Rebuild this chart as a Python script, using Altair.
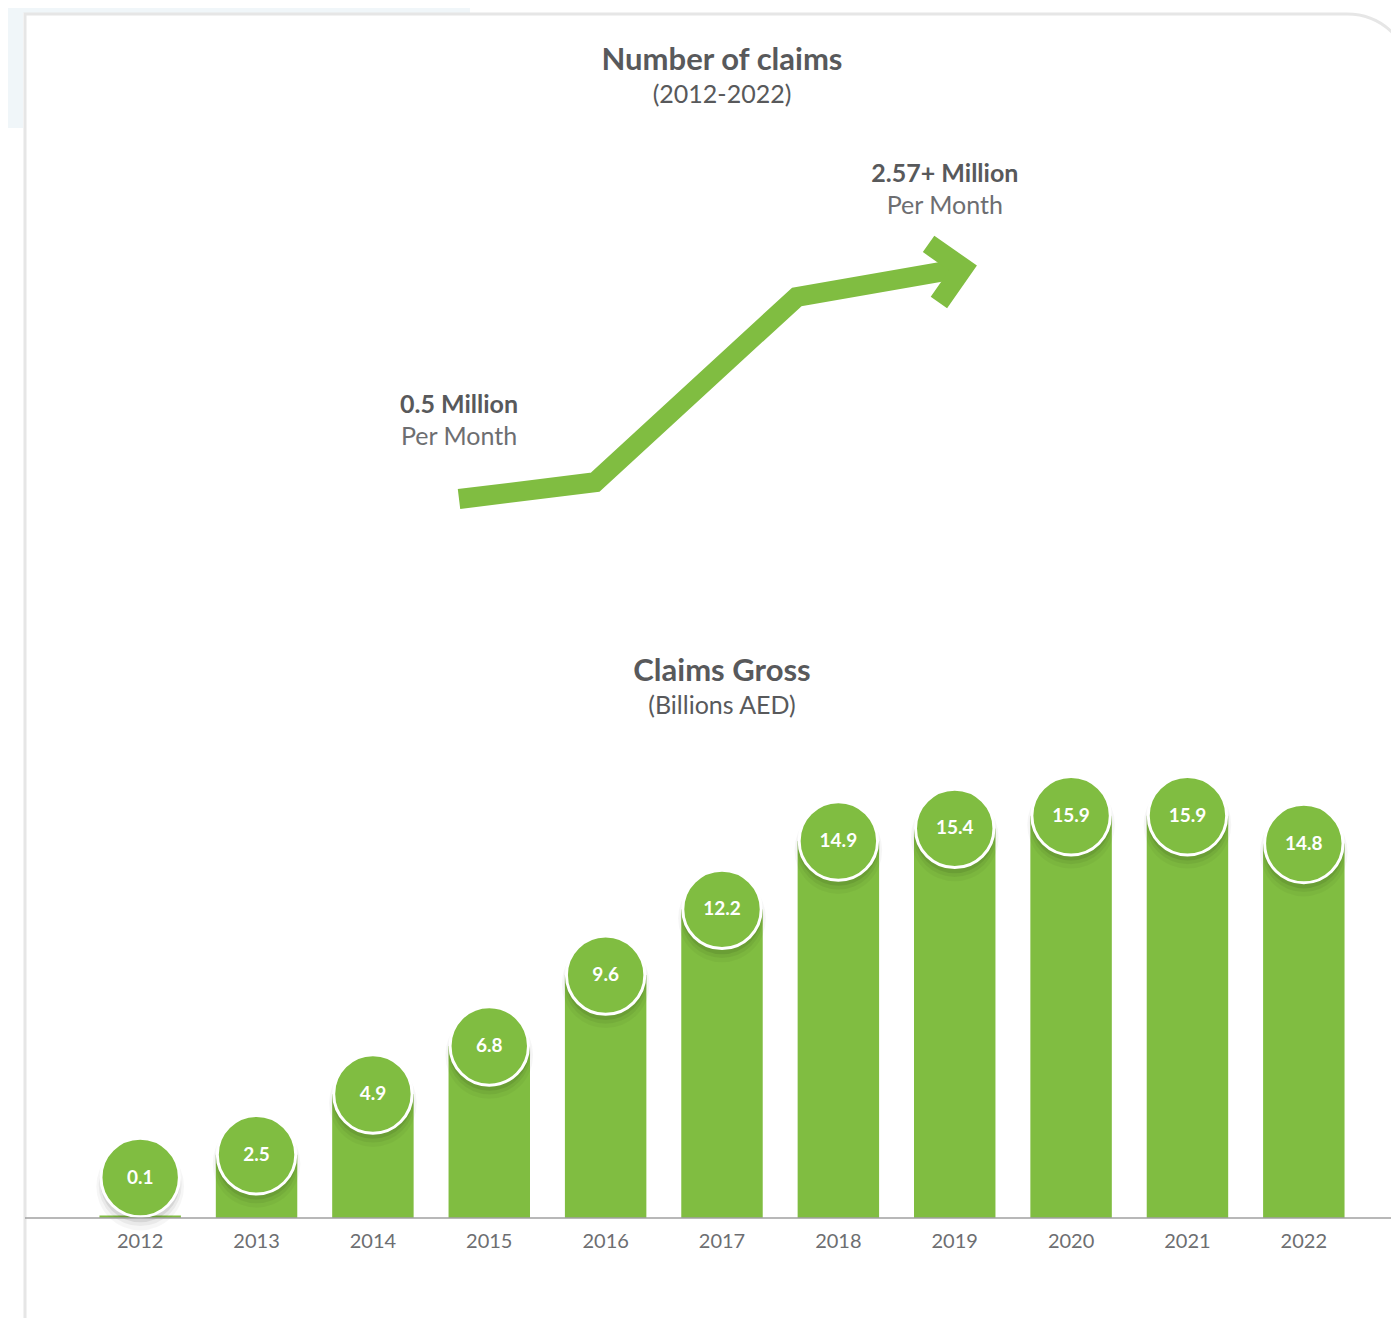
import altair as alt
import pandas as pd

# ---------------- data ----------------
years = ["2012", "2013", "2014", "2015", "2016", "2017", "2018", "2019", "2020", "2021", "2022"]
gross = [0.1, 2.5, 4.9, 6.8, 9.6, 12.2, 14.9, 15.4, 15.9, 15.9, 14.8]

arrow_year = [2012, 2014.7, 2018.7, 2022]
arrow_claims = [0.5, 0.65, 2.31, 2.57]

label_year = [2012, 2021.64]
label_claims = [0.5, 2.57]
label_bold = ["0.5 Million", "2.57+ Million"]
label_sub = ["Per Month", "Per Month"]

top_title = "Number of claims"
top_sub = "(2012-2022)"
bar_title = "Claims Gross"
bar_sub = "(Billions AED)"

# ---------------- style ----------------
W, H = 1383, 1310
GREEN = "#80bd41"
TXT = "#58595b"
AX = "#6d6e71"
FONT = "Lato"

bars_df = pd.DataFrame({"year": years, "value": gross})
arrow_df = pd.DataFrame({"year": arrow_year, "claims": arrow_claims})
head_df = pd.DataFrame({"year": [arrow_year[-1]], "claims": [arrow_claims[-1]]})
lab_df = pd.DataFrame({"year": label_year, "claims": label_claims,
                       "bold": label_bold, "sub": label_sub})
one = pd.DataFrame({"k": [0]})

# ---------------- decoration ----------------
bg1 = alt.Chart(one).mark_rect(color="#f0f6f9").encode(
    x=alt.value(0), x2=alt.value(462), y=alt.value(0), y2=alt.value(5))
bg2 = alt.Chart(one).mark_rect(color="#f0f6f9").encode(
    x=alt.value(0), x2=alt.value(15), y=alt.value(0), y2=alt.value(120))
border = alt.Chart(one).mark_rect(
    filled=False, stroke="#e6e6e6", strokeWidth=3, cornerRadiusTopRight=65
).encode(x=alt.value(17), x2=alt.value(1404), y=alt.value(6), y2=alt.value(1400))


def text_at(t, x, y, size, bold):
    return alt.Chart(pd.DataFrame({"t": [t]})).mark_text(
        font=FONT, fontSize=size, fontWeight="bold" if bold else "normal",
        color=TXT, align="center", baseline="middle"
    ).encode(text="t:N", x=alt.value(x), y=alt.value(y))


titles = alt.layer(
    text_at(top_title, 714, 53, 31, True),
    text_at(top_sub, 714, 87, 25, False),
    text_at(bar_title, 714, 664, 31, True),
    text_at(bar_sub, 714, 698, 25, False),
)

deco = alt.layer(bg1, bg2, border, titles)

# ---------------- bar chart ----------------
xs = alt.X("year:N", scale=alt.Scale(domain=years, range=[74, 1354],
                                      paddingInner=0.3, paddingOuter=0.15), axis=None)
ys = alt.Scale(domain=[0, 20], range=[1210, 704])

base = alt.Chart(bars_df)

bars = base.mark_bar(color=GREEN).encode(
    x=xs, y=alt.Y("value:Q", scale=ys, axis=None))

circ_base = base.transform_calculate(cy="max(datum.value, 1.6)")
cy = alt.Y("cy:Q", scale=ys, axis=None)

shadows = [
    circ_base.mark_circle(color="black", opacity=op, size=sz, yOffset=off).encode(x=xs, y=cy)
    for op, sz, off in [(0.035, 7700, 9), (0.05, 6900, 7), (0.08, 6350, 5)]
]

circles = circ_base.mark_circle(
    color=GREEN, size=6150, opacity=1, stroke="white", strokeWidth=3
).encode(x=xs, y=cy)

circ_text = circ_base.mark_text(
    font=FONT, fontSize=19, fontWeight="bold", color="white", baseline="middle"
).encode(x=xs, y=cy, text=alt.Text("value:Q", format=".1f"))

axis_rule = alt.Chart(one).mark_rule(color="#a0a0a0", strokeWidth=1.5).encode(
    y=alt.datum(0, scale=ys), x=alt.value(17), x2=alt.value(W))

year_text = base.mark_text(
    font=FONT, fontSize=20, color=AX, baseline="top", dy=14
).encode(x=xs, y=alt.datum(0, scale=ys), text="year:N")

bar_layer = alt.layer(bars, *shadows, circles, circ_text, axis_rule, year_text)

# ---------------- arrow ----------------
ax = alt.X("year:Q", scale=alt.Scale(domain=[2012, 2022], range=[451, 955]), axis=None)
ay = alt.Y("claims:Q", scale=alt.Scale(domain=[0.5, 2.57], range=[491, 260]), axis=None)

line = alt.Chart(arrow_df).mark_line(
    color=GREEN, strokeWidth=20, strokeJoin="miter", strokeCap="butt", strokeMiterLimit=10
).encode(x=ax, y=ay, order="year:Q")

head = alt.Chart(head_df).mark_point(
    shape="M -1 -1 L 0 0 L -1 1", size=3530, filled=False, opacity=1,
    stroke=GREEN, strokeWidth=20, strokeJoin="miter", strokeCap="butt", angle=350
).encode(x=ax, y=ay)

lab_bold = alt.Chart(lab_df).mark_text(
    font=FONT, fontSize=25, fontWeight="bold", color=TXT, dy=-94
).encode(x=ax, y=ay, text="bold:N")
lab_sub = alt.Chart(lab_df).mark_text(
    font=FONT, fontSize=25, color=AX, dy=-62
).encode(x=ax, y=ay, text="sub:N")

arrow_layer = alt.layer(line, head, lab_bold, lab_sub)

chart = alt.layer(deco, bar_layer, arrow_layer).resolve_scale(
    x="independent", y="independent"
).properties(
    width=W, height=H, padding=0,
    autosize=alt.AutoSizeParams(type="none"),
    background="white",
).configure_view(stroke=None)

chart.save("out.html", embed_options={"renderer": "svg", "actions": False})
